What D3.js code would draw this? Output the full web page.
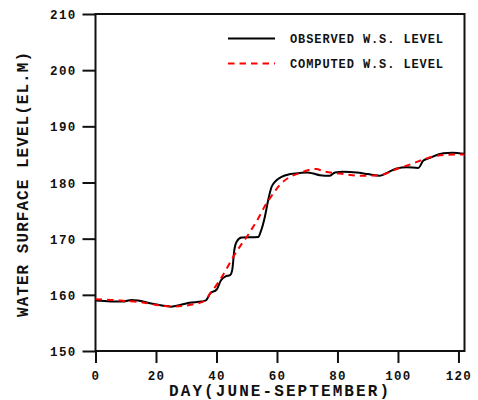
<!DOCTYPE html>
<html>
<head>
<meta charset="utf-8">
<script src="https://cdn.jsdelivr.net/npm/d3@7"></script>
<style>
  html, body { margin: 0; padding: 0; background: #fff; }
  svg { display: block; }
  text { font-family: "Liberation Mono", "DejaVu Sans Mono", monospace; font-weight: bold; fill: #111; }
</style>
</head>
<body>
<div id="chart"></div>
<script>
// Observed water surface level (El. m) by day
const observedDays = [0, 3, 6, 9, 12, 14, 18, 22, 25, 28, 31, 35, 36.5, 38, 40, 41.5, 43, 44.5, 45.2, 45.9, 46.7, 48.3, 53.8, 54.6, 56, 57.1, 58.2, 59.3, 61.5, 64.3, 67.6, 70, 72, 74.2, 77.5, 79.2, 81.9, 86.3, 90, 94, 97, 99.6, 102.9, 106.7, 108.4, 110.6, 115, 118, 122];
const observedLevels = [159.0, 158.9, 158.8, 158.8, 159.1, 159.0, 158.5, 158.1, 157.9, 158.2, 158.6, 158.8, 159.0, 160.3, 160.9, 162.6, 163.3, 163.5, 164.4, 168.0, 169.5, 170.2, 170.3, 171.2, 173.9, 176.9, 179.2, 180.1, 181.0, 181.5, 181.7, 181.8, 181.6, 181.3, 181.2, 181.8, 181.9, 181.8, 181.5, 181.2, 181.9, 182.5, 182.7, 182.6, 183.9, 184.4, 185.2, 185.3, 185.1];

// Computed water surface level (El. m) by day
const computedDays = [0, 5, 10, 15, 20, 26, 30, 33, 36, 38, 40.6, 43, 45.6, 48, 50, 52, 53.8, 56, 57.7, 59.5, 61, 64.3, 67.6, 71, 73, 75.3, 80.8, 85, 88.5, 94, 99.6, 105, 109.5, 115, 122];
const computedLevels = [159.2, 159.1, 158.9, 158.7, 158.2, 157.9, 158.1, 158.4, 158.9, 160.3, 162.2, 164.3, 166.8, 168.8, 170.3, 172.0, 173.6, 175.8, 177.2, 178.6, 179.6, 181.0, 181.7, 182.3, 182.4, 182.0, 181.6, 181.3, 181.2, 181.3, 182.4, 183.4, 184.3, 184.9, 185.0];

const xTicks = [0, 20, 40, 60, 80, 100, 120];
const yTicks = [150, 160, 170, 180, 190, 200, 210];
const seriesNames = ["OBSERVED W.S. LEVEL", "COMPUTED W.S. LEVEL"];
const xTitle = "DAY(JUNE-SEPTEMBER)";
const yTitle = "WATER SURFACE LEVEL(EL.M)";

const W = 478, H = 400;
const plot = { left: 95.5, right: 464.5, top: 14, bottom: 351 };

const svg = d3.select("#chart").append("svg").attr("width", W).attr("height", H);

const x = d3.scaleLinear().domain([0, 122]).range([plot.left, plot.right]);
const y = d3.scaleLinear().domain([150, 210]).range([plot.bottom, plot.top]);

// Axes with outward ticks
const xAxis = svg.append("g")
  .attr("transform", `translate(0,${plot.bottom})`)
  .call(d3.axisBottom(x).tickValues(xTicks).tickSize(12).tickPadding(7).tickSizeOuter(0));
const yAxis = svg.append("g")
  .attr("transform", `translate(${plot.left},0)`)
  .call(d3.axisLeft(y).tickValues(yTicks).tickSize(13).tickPadding(6).tickSizeOuter(0));

[xAxis, yAxis].forEach(g => {
  g.select(".domain").remove();
  g.selectAll("line").attr("stroke", "#111").attr("stroke-width", 2);
  g.selectAll("text")
    .style("font-size", "12.5px")
    .style("letter-spacing", "1.3px")
    .attr("fill", "#111");
});
yAxis.selectAll("text").attr("dy", "0.36em");
xAxis.selectAll("text").attr("dy", "0.8em");

// Plot frame
svg.append("rect")
  .attr("x", plot.left).attr("y", plot.top)
  .attr("width", plot.right - plot.left).attr("height", plot.bottom - plot.top)
  .attr("fill", "none").attr("stroke", "#111").attr("stroke-width", 2);

const line = d3.line().curve(d3.curveMonotoneX);

const obsPts = observedDays.map((d, i) => [x(d), y(observedLevels[i])]);
const cmpPts = computedDays.map((d, i) => [x(d), y(computedLevels[i])]);

svg.append("path").attr("d", line(obsPts))
  .attr("fill", "none").attr("stroke", "#000").attr("stroke-width", 2);
svg.append("path").attr("d", line(cmpPts))
  .attr("fill", "none").attr("stroke", "#ff0000").attr("stroke-width", 2)
  .attr("stroke-dasharray", "6.5,5");

// Legend
const legend = svg.append("g");
const legendRows = [
  { name: seriesNames[0], color: "#000", dash: null, yy: 38.5 },
  { name: seriesNames[1], color: "#ff0000", dash: "6.5,5", yy: 63.5 }
];
legendRows.forEach(r => {
  legend.append("line")
    .attr("x1", 228).attr("x2", 275).attr("y1", r.yy).attr("y2", r.yy)
    .attr("stroke", r.color).attr("stroke-width", 2)
    .attr("stroke-dasharray", r.dash);
  legend.append("text")
    .attr("x", 290).attr("y", r.yy + 4)
    .attr("textLength", 153).attr("lengthAdjust", "spacing")
    .style("font-size", "12px")
    .text(r.name);
});

// Axis titles
svg.append("text")
  .attr("x", (plot.left + plot.right) / 2 - 1)
  .attr("y", 396)
  .attr("text-anchor", "middle")
  .attr("textLength", 220).attr("lengthAdjust", "spacing")
  .style("font-size", "16px")
  .text(xTitle);

svg.append("text")
  .attr("transform", `translate(27.5,184.5) rotate(-90)`)
  .attr("text-anchor", "middle")
  .attr("textLength", 265).attr("lengthAdjust", "spacing")
  .style("font-size", "16px")
  .text(yTitle);
</script>
</body>
</html>
